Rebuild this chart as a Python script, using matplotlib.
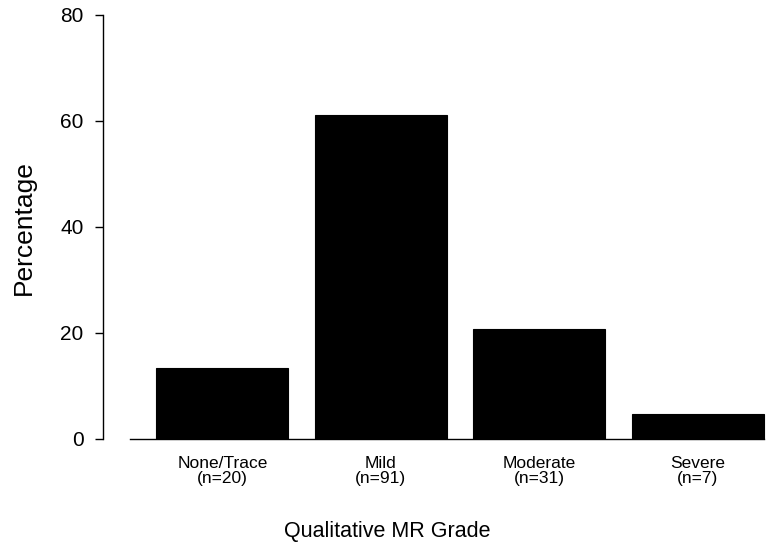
import numpy as np
import matplotlib.pyplot as plt

grades = ['None/Trace', 'Mild', 'Moderate', 'Severe']
counts = [20, 91, 31, 7]
percent = [13.4, 61.1, 20.8, 4.7]
yticks = [0, 20, 40, 60, 80]

plt.rcParams['font.family'] = ['Liberation Sans', 'DejaVu Sans']

W, H = 783, 545
fig = plt.figure(figsize=(W / 100, H / 100), dpi=100)
# axes box in pixels: left spine at x=103, y from 15 (top) to 439 (zero)
left, right, top, bottom = 103, 783, 15, 439
ax = fig.add_axes([left / W, (H - bottom) / H, (right - left) / W, (bottom - top) / H])

# R-style barplot: width 1, space 0.2
x = 0.2 + np.arange(len(grades)) * 1.2 + 0.5
ax.bar(x, percent, width=1.0, color='black', edgecolor='black', linewidth=0.8)

ax.set_ylim(0, 80)
ax.set_xlim((left - 130) / 132, (right - 130) / 132)
ax.set_yticks(yticks)
ax.set_yticklabels([str(v) for v in yticks], fontsize=15)
ax.tick_params(axis='y', length=6, width=1, pad=8)
ax.set_xticks(x)
ax.set_xticklabels([f'{g}\n(n={n})' for g, n in zip(grades, counts)],
                   fontsize=12.5, linespacing=1.0)
ax.tick_params(axis='x', length=0, pad=12)

for s in ['top', 'right']:
    ax.spines[s].set_visible(False)
ax.spines['left'].set_bounds(0, 80)
ax.spines['bottom'].set_bounds(0, 4.8)
ax.spines['left'].set_linewidth(1)
ax.spines['bottom'].set_linewidth(1)

fig.text(24 / W, 1 - 228 / H, 'Percentage', rotation=90, ha='center', va='center', fontsize=19)
fig.text(387 / W, 1 - 531 / H, 'Qualitative MR Grade', ha='center', va='center', fontsize=15.5)

fig.savefig('out.png', dpi=100)
